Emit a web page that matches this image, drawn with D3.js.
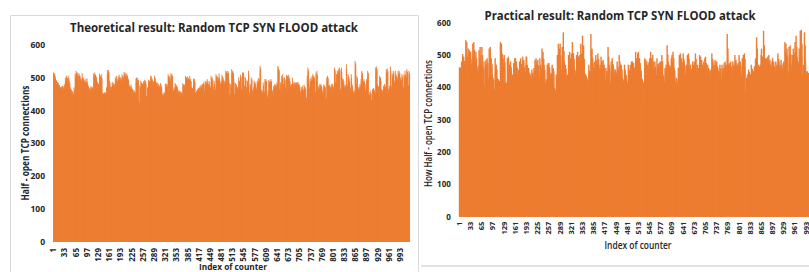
<!DOCTYPE html>
<html>
<head>
<meta charset="utf-8">
<script src="https://cdn.jsdelivr.net/npm/d3@7/dist/d3.min.js"></script>
<style>
  body { margin: 0; background: #fff; }
  svg { display: block; font-family: "Open Sans", sans-serif; }
</style>
</head>
<body>
<svg id="chart" width="809" height="272"></svg>
<script>
const yTicks = [0, 100, 200, 300, 400, 500, 600];
const indexLabels = [1, 33, 65, 97, 129, 161, 193, 225, 257, 289, 321, 353, 385, 417, 449, 481,
  513, 545, 577, 609, 641, 673, 705, 737, 769, 801, 833, 865, 897, 929, 961, 993];

// half-open connections per counter index
const theoretical = [
  515,502,509,512,497,505,498,488,492,490,476,484,486,479,
  483,471,477,476,466,470,470,461,465,472,468,459,474,466,
  473,462,468,480,471,474,500,489,493,505,494,498,498,487,
  505,496,499,490,478,484,470,463,466,462,451,457,458,449,
  455,448,451,470,459,465,512,501,506,520,508,514,515,503,
  510,499,504,513,502,507,505,493,497,496,488,491,513,501,
  500,489,494,497,486,490,490,481,485,495,483,488,497,485,
  480,469,474,470,461,465,468,458,463,473,464,468,472,463,
  470,461,465,512,500,506,515,503,508,508,497,501,490,481,
  487,477,482,480,470,475,512,500,505,505,494,498,510,498,
  453,446,449,452,444,447,455,447,450,454,445,449,470,460,
  522,510,515,523,511,516,490,479,484,470,461,465,472,462,
  486,476,481,484,474,478,480,470,474,500,489,494,505,493,
  495,485,489,503,492,497,508,496,501,500,490,494,496,486,
  510,499,504,505,494,499,517,505,510,515,503,509,508,497,
  512,500,505,500,489,494,480,470,474,475,465,470,478,468,
  470,461,465,460,451,455,462,452,457,458,449,452,496,485,
  500,489,494,498,487,492,428,421,425,475,465,470,490,480,
  485,475,480,482,472,477,489,478,483,493,482,487,490,479,
  443,436,440,470,461,465,493,482,487,490,479,484,505,494,
  503,492,497,493,482,487,488,477,482,505,494,499,490,480,
  486,476,481,485,474,479,480,470,475,475,465,469,483,472,
  478,468,472,450,443,446,452,444,448,455,447,451,480,470,
  482,472,477,480,470,475,510,498,504,505,494,499,490,480,
  513,502,507,510,499,504,465,456,460,470,461,465,483,473,
  480,470,475,475,465,470,460,451,455,462,452,457,456,448,
  458,449,453,455,447,451,482,472,477,480,470,475,478,468,
  505,494,499,500,489,494,503,492,497,498,487,492,505,494,
  495,485,489,470,461,465,468,458,463,497,486,491,495,484,
  455,447,451,460,451,455,465,455,460,468,458,463,470,460,
  475,465,470,478,468,473,480,470,475,485,475,480,460,451,
  490,480,485,487,477,482,495,484,489,480,470,475,488,478,
  475,465,470,505,494,499,500,489,494,470,461,465,490,480,
  468,458,463,510,498,504,505,494,499,500,489,494,512,500,
  485,475,480,490,480,485,508,497,502,500,489,494,485,475,
  490,480,485,520,508,514,518,506,512,520,508,514,495,484,
  450,443,446,480,470,475,525,513,518,520,508,514,495,484,
  450,443,446,483,473,478,475,465,470,470,461,465,500,489,
  490,480,485,508,497,502,465,456,460,515,503,509,515,503,
  475,465,470,500,489,494,470,461,465,490,480,485,520,508,
  455,447,451,480,470,475,500,489,494,462,452,457,470,460,
  490,480,485,485,475,480,470,461,465,490,480,485,497,486,
  497,486,491,535,522,528,465,456,460,460,451,455,485,475,
  460,451,455,495,484,489,495,484,489,445,438,441,460,451,
  492,481,486,490,480,485,495,484,489,465,456,460,445,438,
  475,465,470,480,470,475,478,468,473,485,475,480,535,522,
  530,517,523,465,456,460,485,475,480,505,494,499,510,498,
  480,470,475,500,489,494,470,461,465,508,497,502,505,494,
  508,497,502,495,484,489,475,465,470,480,470,475,498,487,
  482,472,477,485,475,480,485,475,480,485,475,480,485,475,
  485,475,480,478,468,473,460,451,455,470,461,465,475,465,
  465,456,460,478,468,473,470,461,465,440,433,437,505,494,
  530,517,523,475,465,470,495,484,489,500,489,494,505,494,
  510,498,504,505,494,499,460,451,455,515,503,509,520,508,
  470,461,465,475,465,470,480,470,475,480,470,475,470,461,
  455,447,451,478,468,473,475,465,470,440,433,437,500,489,
  505,494,499,475,465,470,478,468,473,470,461,465,480,470,
  480,470,475,470,461,465,530,517,523,485,475,480,510,498,
  520,508,514,525,513,518,530,517,523,465,456,460,530,517,
  500,489,494,495,484,489,475,465,470,478,468,473,540,527,
  480,470,475,510,498,504,495,484,489,470,461,465,510,498,
  480,470,475,460,451,455,460,451,455,550,536,543,480,470,
  505,494,499,470,461,465,472,462,467,480,470,475,495,484,
  520,508,514,490,480,485,495,484,489,465,456,460,480,470,
  495,484,489,520,508,514,450,443,446,455,447,451,460,451,
  432,425,429,465,456,460,468,458,463,455,447,451,530,517,
  533,520,526,478,468,473,472,462,467,505,494,499,500,489,
  465,456,460,462,452,457,475,465,470,480,470,475,470,461,
  525,513,518,527,514,520,465,456,460,475,465,470,533,520,
  478,468,473,512,500,506,520,508,514,490,480,485,520,508,
  510,498,504,500,489,494,520,508,514,520,508,514,500,489,
  498,487,492,510,498,504,475,465,470,510,498,504,520,508,
  505,494,499,525,513,518,480,470,475,520,508,514
];

const practical = [
  462,458,460,455,461,452,480,468,475,503,485,492,495,470,482,470,448,462,546,488,505,540,495,418,410,520,478,502,515,470,510,505,
  510,488,472,460,452,455,535,495,470,540,500,515,500,462,480,510,476,490,460,440,452,465,420,448,515,470,490,525,498,480,465,470,
  525,478,500,480,455,462,410,405,398,480,452,470,485,440,466,490,470,475,430,368,418,520,485,470,525,480,490,490,460,472,440,428,
  430,415,422,395,388,392,490,445,468,470,430,455,430,410,425,425,300,418,420,405,412,540,470,495,535,480,505,500,470,488,462,430,
  500,462,478,415,408,410,415,402,412,490,430,465,495,452,470,470,438,455,480,445,462,430,418,425,440,412,435,475,440,458,490,470,
  490,455,470,480,445,462,440,420,432,455,438,448,480,452,465,490,440,472,470,438,455,495,455,478,485,450,462,440,430,445,470,495,
  495,460,470,440,425,432,460,360,445,445,430,438,420,412,418,455,432,445,440,420,435,460,438,450,485,448,470,490,455,472,480,462,
  485,450,468,430,415,425,490,440,470,460,438,452,520,462,490,510,470,488,470,440,455,415,405,410,425,375,418,470,445,458,475,440,
  475,448,462,440,425,435,445,432,440,470,445,455,460,438,450,400,392,396,390,382,386,440,420,432,500,455,478,535,470,498,520,480,
  535,478,500,455,440,448,525,470,495,570,480,512,480,455,468,470,380,458,435,425,430,440,428,436,500,455,478,510,462,485,490,470,
  505,465,482,540,480,505,505,468,488,460,440,452,440,425,435,500,460,478,510,470,490,495,458,475,500,462,482,535,478,505,500,470,
  560,490,520,530,470,488,445,432,440,440,425,435,430,418,425,400,390,396,470,438,452,445,420,435,565,480,515,520,470,490,475,460,
  460,440,452,480,450,465,500,462,480,485,455,470,505,465,488,460,440,452,470,340,462,495,458,478,480,450,465,485,455,470,470,458,
  420,410,415,460,438,450,450,432,442,525,470,495,470,445,458,415,405,410,480,448,465,490,455,472,470,445,458,445,430,438,455,448,
  445,430,438,480,452,465,455,438,448,500,460,480,470,445,458,470,442,455,430,418,425,420,412,416,470,440,455,445,430,438,425,418,
  415,405,410,470,440,455,450,432,442,470,445,458,480,450,465,480,452,468,475,448,462,440,425,435,510,465,488,490,462,478,505,470,
  510,468,490,490,458,475,460,440,452,430,418,425,420,340,415,410,402,406,490,452,470,485,455,470,480,450,465,470,445,458,478,450,
  490,458,475,510,468,490,450,435,442,500,462,480,460,440,452,480,350,465,440,428,435,490,455,472,470,445,458,475,452,465,480,462,
  480,452,465,500,462,480,440,428,435,420,410,415,460,440,452,470,445,458,530,475,502,480,455,468,470,448,460,465,450,458,490,475,
  500,462,480,510,470,490,460,440,452,420,410,415,430,418,425,415,355,410,460,440,452,500,462,480,505,465,488,490,462,478,470,455,
  505,468,488,480,452,465,440,428,435,470,445,458,500,462,480,505,465,488,460,440,452,470,445,458,450,435,442,480,452,465,470,462,
  480,452,465,505,465,488,450,435,442,470,360,458,460,440,452,500,462,480,495,458,475,485,455,470,470,448,462,480,455,468,490,475,
  495,458,475,440,428,435,470,445,458,460,440,452,420,410,415,455,438,448,505,465,488,480,452,465,470,448,460,485,455,470,478,462,
  480,452,465,460,440,452,450,435,442,470,445,458,430,418,425,470,445,458,460,440,452,475,450,462,480,455,468,470,448,460,565,490,
  520,470,470,445,458,475,448,462,480,452,465,440,428,435,480,452,465,470,445,458,500,462,480,485,455,470,470,448,460,475,452,465,
  500,462,480,480,452,465,440,428,435,490,458,475,500,462,480,505,465,488,385,378,382,430,418,425,440,428,435,455,438,448,440,430,
  440,428,435,470,445,458,455,438,448,450,435,442,465,442,455,490,458,475,555,485,520,440,428,435,470,445,458,465,442,455,470,500,
  520,470,495,495,475,480,575,490,530,470,445,458,490,458,475,490,455,472,495,458,478,500,462,480,485,455,470,470,448,460,480,462,
  490,458,475,480,452,465,445,432,440,480,452,465,470,445,458,505,465,488,480,452,465,470,448,460,485,455,470,460,440,452,475,462,
  480,452,465,540,480,510,535,478,505,520,470,495,450,435,442,525,472,498,530,475,502,470,370,455,500,462,480,520,470,495,505,478,
  540,480,510,560,490,525,495,458,475,480,452,465,520,470,495,575,490,530,578,495,535,440,428,435,470,330,455,570,490,530,480,450,
  445,430,438,450,435,442,445,430,438,440,428,435,455,438,448,445,432,440,460,440,452,448,435,442,452,438,445,440
];

const BAR = "#ED7D31";
const FRAME = "#d9d9d9";
const TEXT = "#262626";

const svg = d3.select("#chart");

// frames behind the two charts
svg.append("path")
  .attr("d", "M10.5,272V15.5H418.5V272")
  .attr("fill", "none")
  .attr("stroke", FRAME);
svg.append("line")
  .attr("x1", 421).attr("x2", 809)
  .attr("y1", 266).attr("y2", 266)
  .attr("stroke", "#e3e3e3")
  .attr("stroke-width", 2);

function drawPanel( cfg ) {
  const g = svg.append("g");

  const x = d3.scaleBand()
    .domain(cfg.values.map((d, i) => i + 1))
    .range([cfg.left, cfg.right]);
  const y = d3.scaleLinear()
    .domain([0, 600])
    .range([cfg.bottom, cfg.top]);

  // bars are far thinner than a pixel; widen them so neighbours overlap
  // and the columns come out solid like the original
  g.append("g")
    .selectAll("rect")
    .data(cfg.values)
    .join("rect")
    .attr("x", (d, i) => x(i + 1))
    .attr("width", x.step() * cfg.overlap)
    .attr("y", d => y(d))
    .attr("height", d => cfg.bottom - y(d))
    .attr("fill", BAR);

  const yAxis = d3.axisLeft(y).tickValues(yTicks).tickSize(0).tickPadding(cfg.yPad);
  g.append("g")
    .attr("transform", `translate(${cfg.left},0)`)
    .call(yAxis)
    .call(a => a.select(".domain").remove())
    .selectAll("text")
    .attr("fill", TEXT)
    .attr("font-family", "Open Sans")
    .attr("font-weight", 700)
    .attr("font-size", cfg.tickSize);

  const xAxis = d3.axisBottom(x).tickValues(indexLabels).tickSize(0);
  g.append("g")
    .attr("transform", `translate(0,${cfg.bottom})`)
    .call(xAxis)
    .call(a => a.select(".domain").remove())
    .selectAll("text")
    .attr("transform", "rotate(-90)")
    .attr("text-anchor", "end")
    .attr("x", -cfg.xPad)
    .attr("y", 0)
    .attr("dy", "0.35em")
    .attr("fill", TEXT)
    .attr("font-family", "Open Sans")
    .attr("font-weight", 700)
    .attr("font-size", cfg.xTickSize);

  g.append("text")
    .attr("x", cfg.title.x).attr("y", cfg.title.y)
    .attr("text-anchor", "middle")
    .attr("font-size", cfg.title.size)
    .attr("font-weight", 700)
    .attr("fill", TEXT)
    .attr("textLength", cfg.title.len)
    .attr("lengthAdjust", "spacingAndGlyphs")
    .text(cfg.title.text);

  g.append("text")
    .attr("transform", `translate(${cfg.yTitle.x},${cfg.yTitle.y}) rotate(-90)`)
    .attr("text-anchor", "middle")
    .attr("font-size", cfg.yTitle.size)
    .attr("font-weight", cfg.yTitle.weight)
    .attr("fill", TEXT)
    .attr("textLength", cfg.yTitle.len)
    .attr("lengthAdjust", "spacingAndGlyphs")
    .text(cfg.yTitle.text);

  g.append("text")
    .attr("x", cfg.xTitle.x).attr("y", cfg.xTitle.y)
    .attr("text-anchor", "middle")
    .attr("font-size", cfg.xTitle.size)
    .attr("font-weight", cfg.xTitle.weight)
    .attr("fill", TEXT)
    .attr("textLength", cfg.xTitle.len)
    .attr("lengthAdjust", "spacingAndGlyphs")
    .text(cfg.xTitle.text);
}

drawPanel({
  values: theoretical,
  left: 53, right: 409.5, top: 44.5, bottom: 242, overlap: 2.6,
  yPad: 8, xPad: 6, tickSize: 8.5, xTickSize: 8,
  title: { text: "Theoretical result: Random TCP SYN FLOOD attack", x: 214, y: 32, size: 12.5, len: 288 },
  yTitle: { text: "Half - open TCP connections", x: 29, y: 143, size: 10.5, weight: 700, len: 115 },
  xTitle: { text: "Index of counter", x: 233, y: 270, size: 9.5, weight: 700, len: 68 },
});

drawPanel({
  values: practical,
  left: 458.8, right: 815.3, top: 22.7, bottom: 216.7, overlap: 4,
  yPad: 8, xPad: 5, tickSize: 8, xTickSize: 7.5,
  title: { text: "Practical result: Random TCP SYN FLOOD attack", x: 620, y: 19.5, size: 12, len: 271 },
  yTitle: { text: "How Half - open TCP connections", x: 432, y: 123.5, size: 10.5, weight: 600, len: 127 },
  xTitle: { text: "Index of counter", x: 638, y: 248.5, size: 10, weight: 600, len: 67 },
});
</script>
</body>
</html>
